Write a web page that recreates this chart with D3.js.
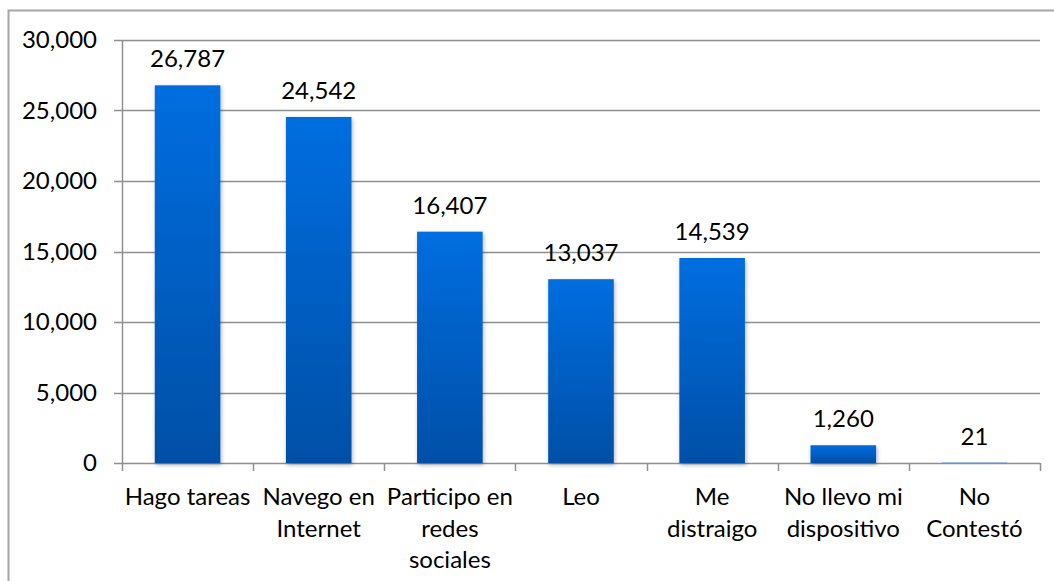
<!DOCTYPE html>
<html>
<head>
<meta charset="utf-8">
<script src="https://cdn.jsdelivr.net/npm/d3@7"></script>
<style>
  body { margin: 0; background: #fff; }
  text { font-family: "Lato", "Open Sans", sans-serif; fill: #000; }
</style>
</head>
<body>
<div id="chart"></div>
<script>
const categories = ['Hago tareas', 'Navego en Internet', 'Participo en redes sociales', 'Leo',
  'Me distraigo', 'No llevo mi dispositivo', 'No Contestó'];
// label lines as they wrap in the picture
const labelLines = [
  ['Hago tareas'],
  ['Navego en', 'Internet'],
  ['Participo en', 'redes', 'sociales'],
  ['Leo'],
  ['Me', 'distraigo'],
  ['No llevo mi', 'dispositivo'],
  ['No', 'Contestó']
];
const values = [26787, 24542, 16407, 13037, 14539, 1260, 21];
const yTicks = [0, 5000, 10000, 15000, 20000, 25000, 30000];

const width = 1054, height = 581;
const margin = { left: 122, right: 14, top: 40, bottom: 118 };

const svg = d3.select('#chart').append('svg')
  .attr('width', width)
  .attr('height', height);

// outer frame, runs off the right and bottom edges
svg.append('rect')
  .attr('x', 8.5).attr('y', 10.5)
  .attr('width', 1100).attr('height', 700)
  .attr('fill', 'none')
  .attr('stroke', '#a6a6a6')
  .attr('stroke-width', 2);

const defs = svg.append('defs');
const grad = defs.append('linearGradient')
  .attr('id', 'barGrad')
  .attr('x1', 0).attr('y1', 0).attr('x2', 0).attr('y2', 1);
grad.append('stop').attr('offset', '0%').attr('stop-color', '#006ee0');
grad.append('stop').attr('offset', '100%').attr('stop-color', '#004fa6');

const shadow = defs.append('filter').attr('id', 'shadow')
  .attr('x', '-20%').attr('y', '-10%').attr('width', '140%').attr('height', '130%');
shadow.append('feDropShadow')
  .attr('dx', 1).attr('dy', 2).attr('stdDeviation', 2)
  .attr('flood-color', '#000').attr('flood-opacity', 0.3);

const x = d3.scaleBand()
  .domain(categories)
  .range([margin.left, width - margin.right])
  .paddingInner(0.5)
  .paddingOuter(0.25);

const y = d3.scaleLinear()
  .domain([0, 30000])
  .range([height - margin.bottom, margin.top]);

// gridlines
svg.append('g')
  .selectAll('line')
  .data(yTicks)
  .enter().append('line')
  .attr('x1', margin.left - 8)
  .attr('x2', width - margin.right)
  .attr('y1', d => Math.round(y(d)) + 0.5)
  .attr('y2', d => Math.round(y(d)) + 0.5)
  .attr('stroke', '#8f8f8f')
  .attr('stroke-width', 1.5);

// y axis line
svg.append('line')
  .attr('x1', margin.left + 0.5).attr('x2', margin.left + 0.5)
  .attr('y1', margin.top).attr('y2', y(0))
  .attr('stroke', '#8f8f8f')
  .attr('stroke-width', 1.5);

// y tick labels
svg.append('g')
  .selectAll('text')
  .data(yTicks)
  .enter().append('text')
  .attr('x', 97)
  .attr('y', d => y(d))
  .attr('dy', '0.35em')
  .attr('text-anchor', 'end')
  .style('font-size', '24px')
  .text(d => d3.format(',')(d));

// category tick marks
const bounds = d3.range(categories.length + 1).map(i => margin.left + i * (width - margin.right - margin.left) / categories.length);
svg.append('g')
  .selectAll('line')
  .data(bounds)
  .enter().append('line')
  .attr('x1', d => Math.round(d) + 0.5)
  .attr('x2', d => Math.round(d) + 0.5)
  .attr('y1', y(0))
  .attr('y2', y(0) + 8)
  .attr('stroke', '#8f8f8f')
  .attr('stroke-width', 1.5);

// bars
svg.append('g')
  .selectAll('rect')
  .data(values)
  .enter().append('rect')
  .attr('x', (d, i) => x(categories[i]))
  .attr('y', d => y(d))
  .attr('width', x.bandwidth())
  .attr('height', d => y(0) - y(d))
  .attr('fill', 'url(#barGrad)')
  .attr('filter', 'url(#shadow)');

// value labels
svg.append('g')
  .selectAll('text')
  .data(values)
  .enter().append('text')
  .attr('x', (d, i) => x(categories[i]) + x.bandwidth() / 2)
  .attr('y', d => y(d) - 18)
  .attr('text-anchor', 'middle')
  .style('font-size', '24px')
  .text(d => d3.format(',')(d));

// category labels
const labels = svg.append('g')
  .selectAll('text')
  .data(labelLines)
  .enter().append('text')
  .attr('text-anchor', 'middle')
  .style('font-size', '24px');

labels.selectAll('tspan')
  .data((d, i) => d.map(line => ({ line, i })))
  .enter().append('tspan')
  .attr('x', d => x(categories[d.i]) + x.bandwidth() / 2)
  .attr('y', (d, j) => 505 + j * 31.5)
  .text(d => d.line);
</script>
</body>
</html>
